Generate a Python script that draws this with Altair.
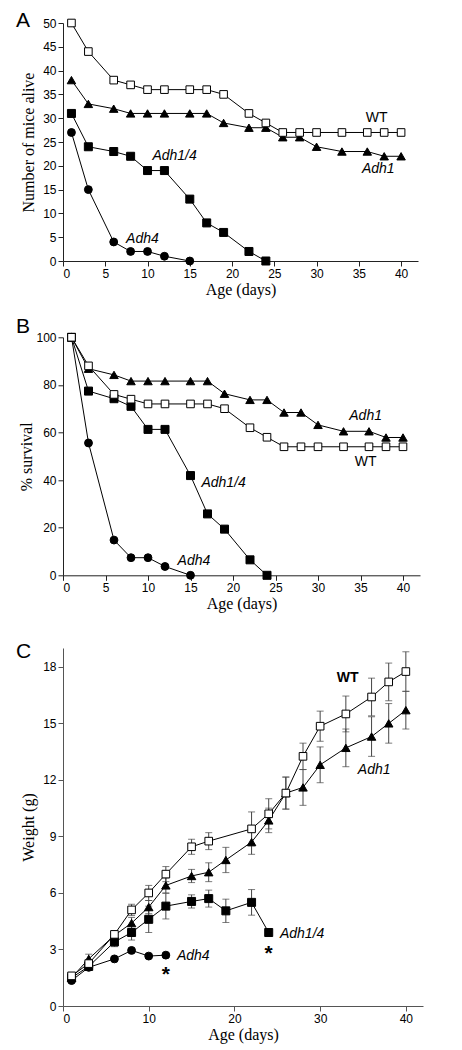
import altair as alt
import pandas as pd

SERIES = ["WT", "Adh1", "Adh1/4", "Adh4"]

# ---------------- Panel A: number of mice alive ----------------
a_days_wt = [1, 3, 6, 8, 10, 12, 15, 17, 19, 22, 24, 26, 28, 30, 33, 36, 38, 40]
a_wt = [50, 44, 38, 37, 36, 36, 36, 36, 35, 31, 29, 27, 27, 27, 27, 27, 27, 27]
a_days_adh1 = [1, 3, 6, 8, 10, 12, 15, 17, 19, 22, 24, 26, 28, 30, 33, 36, 38, 40]
a_adh1 = [38, 33, 32, 31, 31, 31, 31, 31, 29, 28, 28, 26, 26, 24, 23, 23, 22, 22]
a_days_adh14 = [1, 3, 6, 8, 10, 12, 15, 17, 19, 22, 24]
a_adh14 = [31, 24, 23, 22, 19, 19, 13, 8, 6, 2, 0]
a_days_adh4 = [1, 3, 6, 8, 10, 12, 15]
a_adh4 = [27, 15, 4, 2, 2, 1, 0]

# ---------------- Panel B: % survival ----------------
b_wt = [100, 88, 76, 74, 72, 72, 72, 72, 70, 62, 58, 54, 54, 54, 54, 54, 54, 54]
b_adh1 = [100, 86.8, 84.2, 81.6, 81.6, 81.6, 81.6, 81.6, 76.3, 73.7, 73.7,
          68.4, 68.4, 63.2, 60.5, 60.5, 57.9, 57.9]
b_adh14 = [100, 77.4, 74.2, 71.0, 61.3, 61.3, 41.9, 25.8, 19.4, 6.5, 0]
b_adh4 = [100, 55.6, 14.8, 7.4, 7.4, 3.7, 0]

# ---------------- Panel C: weight (g) with error bars ----------------
c_days_wt = [1, 3, 6, 8, 10, 12, 15, 17, 22, 24, 26, 28, 30, 33, 36, 38, 40]
c_wt = [1.6, 2.25, 3.8, 5.1, 6.0, 7.0, 8.45, 8.75, 9.4, 10.2, 11.3, 13.25, 14.85,
        15.5, 16.4, 17.2, 17.75]
c_wt_err = [0.1, 0.2, 0.2, 0.3, 0.4, 0.4, 0.4, 0.45, 0.9, 0.8, 0.85, 0.7, 0.8,
            0.95, 1.0, 1.0, 1.05]
c_days_adh1 = [1, 3, 6, 8, 10, 12, 15, 17, 19, 22, 24, 26, 28, 30, 33, 36, 38, 40]
c_adh1 = [1.5, 2.5, 3.75, 4.4, 5.25, 6.4, 6.9, 7.1, 7.75, 8.7, 9.85, 11.3, 11.6,
          12.8, 13.7, 14.3, 15.0, 15.7]
c_adh1_err = [0.1, 0.25, 0.2, 0.3, 0.35, 0.4, 0.35, 0.5, 0.67, 0.65, 0.65, 0.85,
              0.95, 0.95, 1.0, 1.05, 1.05, 1.0]
c_days_adh14 = [1, 3, 6, 8, 10, 12, 15, 17, 19, 22, 24]
c_adh14 = [1.5, 2.1, 3.4, 3.9, 4.6, 5.3, 5.55, 5.7, 5.05, 5.5, 3.9]
c_adh14_err = [0.1, 0.15, 0.25, 0.4, 0.7, 0.68, 0.35, 0.45, 0.62, 0.68, 0]
c_days_adh4 = [1, 3, 6, 8, 10, 12]
c_adh4 = [1.35, 2.05, 2.5, 2.95, 2.65, 2.7]

# label annotations (day, value, text, style)
a_lab_day = [37.1, 37.3, 13.2, 9.4]
a_lab_val = [30.0, 19.4, 22.0, 4.6]
b_lab_day = [35.6, 35.6, 18.9, 15.4]
b_lab_val = [47.5, 66.9, 38.9, 6.2]
c_lab_day = [33.2, 36.3, 27.9, 15.2]
c_lab_val = [17.4, 12.55, 3.8, 2.63]
lab_text = ["WT", "Adh1", "Adh1/4", "Adh4"]
star_day = [12, 24]
star_val = [1.9, 3.05]

STYLE = {
    "WT": dict(shape="square", fill="white", size=58),
    "Adh1": dict(shape="triangle-up", fill="black", size=72),
    "Adh1/4": dict(shape="square", fill="black", size=64),
    "Adh4": dict(shape="circle", fill="black", size=62),
}


def long_df(days_list, vals_list):
    rows = []
    for s, d, v in zip(SERIES, days_list, vals_list):
        for di, vi in zip(d, v):
            rows.append({"series": s, "day": di, "value": vi})
    return pd.DataFrame(rows)


def panel(df, ydom, yvals, ytitle, width, height, xvals, ytp, letter, letter_y,
          lab_days, lab_vals, wt_bold=False, err=None, stars=None, axcol="black"):
    xenc = alt.X("day:Q", scale=alt.Scale(domain=[0, 42], nice=False),
                 axis=alt.Axis(values=xvals, title="Age (days)", titlePadding=2,
                               domainColor=axcol, tickColor=axcol))
    yenc = alt.Y("value:Q", scale=alt.Scale(domain=ydom, nice=False),
                 axis=alt.Axis(values=yvals, title=ytitle, titlePadding=ytp,
                               domainColor=axcol, tickColor=axcol))
    layers = []
    if err is not None:
        ed, caps = err
        layers.append(alt.Chart(ed).mark_rule(color="#444", strokeWidth=1).encode(
            x=xenc, y=yenc, y2="value2:Q"))
        layers.append(alt.Chart(caps).mark_tick(orient="horizontal", size=7,
                                                thickness=1, color="#444").encode(
            x=xenc, y=yenc))
    layers.append(alt.Chart(df).mark_line(color="black", strokeWidth=1).encode(
        x=xenc, y=yenc, detail="series:N"))
    for s in ["Adh4", "Adh1/4", "Adh1", "WT"]:
        st = STYLE[s]
        layers.append(alt.Chart(df[df.series == s]).mark_point(
            shape=st["shape"], filled=True, fill=st["fill"], stroke="black",
            strokeWidth=1, opacity=1, size=st["size"]).encode(x=xenc, y=yenc))
    lab = pd.DataFrame({"day": lab_days, "value": lab_vals, "text": lab_text})
    layers.append(alt.Chart(lab[lab.text == "WT"]).mark_text(
        font="Liberation Sans", fontSize=14, fontWeight="bold" if wt_bold else "normal",
        color="black").encode(x=xenc, y=yenc, text="text:N"))
    layers.append(alt.Chart(lab[lab.text != "WT"]).mark_text(
        font="Liberation Sans", fontSize=14, fontStyle="italic",
        color="black").encode(x=xenc, y=yenc, text="text:N"))
    if stars is not None:
        layers.append(alt.Chart(stars).mark_text(
            font="Liberation Sans", fontSize=21, fontWeight="bold", dy=5,
            color="black").encode(x=xenc, y=yenc, text=alt.value("*")))
    layers.append(alt.Chart(pd.DataFrame({"t": [letter]})).mark_text(
        font="Liberation Sans", fontSize=21, align="left", baseline="alphabetic",
        color="black").encode(x=alt.value(-47), y=alt.value(letter_y), text="t:N"))
    return alt.layer(*layers).properties(width=width, height=height)


dfA = long_df([a_days_wt, a_days_adh1, a_days_adh14, a_days_adh4],
              [a_wt, a_adh1, a_adh14, a_adh4])
dfB = long_df([a_days_wt, a_days_adh1, a_days_adh14, a_days_adh4],
              [b_wt, b_adh1, b_adh14, b_adh4])
dfC = long_df([c_days_wt, c_days_adh1, c_days_adh14, c_days_adh4],
              [c_wt, c_adh1, c_adh14, c_adh4])

err_rows, cap_rows = [], []
for d, v, e in [(c_days_wt, c_wt, c_wt_err), (c_days_adh1, c_adh1, c_adh1_err),
                (c_days_adh14, c_adh14, c_adh14_err)]:
    for di, vi, ei in zip(d, v, e):
        if ei > 0:
            err_rows.append({"day": di, "value": vi - ei, "value2": vi + ei})
            cap_rows.append({"day": di, "value": vi - ei})
            cap_rows.append({"day": di, "value": vi + ei})
errC = pd.DataFrame(err_rows)
capsC = pd.DataFrame(cap_rows)
starsC = pd.DataFrame({"day": star_day, "value": star_val})

A = panel(dfA, [0, 50], list(range(0, 51, 5)), "Number of mice alive", 355, 238,
          list(range(0, 41, 5)), 6, "A", 4, a_lab_day, a_lab_val, axcol="#222")
B = panel(dfB, [0, 100], list(range(0, 101, 20)), "% survival", 357, 238,
          list(range(0, 41, 5)), 1, "B", -4, b_lab_day, b_lab_val, axcol="#222")
C = panel(dfC, [0, 19], list(range(0, 19, 3)), "Weight (g)", 360, 358,
          list(range(0, 41, 10)), 6, "C", 10, c_lab_day, c_lab_val, wt_bold=True,
          err=(errC, capsC), stars=starsC, axcol="#555")

inner = alt.vconcat(B, C, spacing=72.7, bounds="flush")
chart = alt.vconcat(A, inner, spacing=76.3, bounds="flush").properties(
    padding={"left": 8, "top": 2, "right": 10, "bottom": 5}
).configure_view(stroke=None).configure_axis(
    grid=False, labelColor="black", titleColor="black", tickSize=5,
    domainWidth=1, tickWidth=1, labelFont="Liberation Sans", labelFontSize=12,
    titleFont="Liberation Serif", titleFontSize=16, titleFontWeight="normal",
    labelPadding=2
)

chart.save("out.html", embed_options={"renderer": "svg", "actions": False})
